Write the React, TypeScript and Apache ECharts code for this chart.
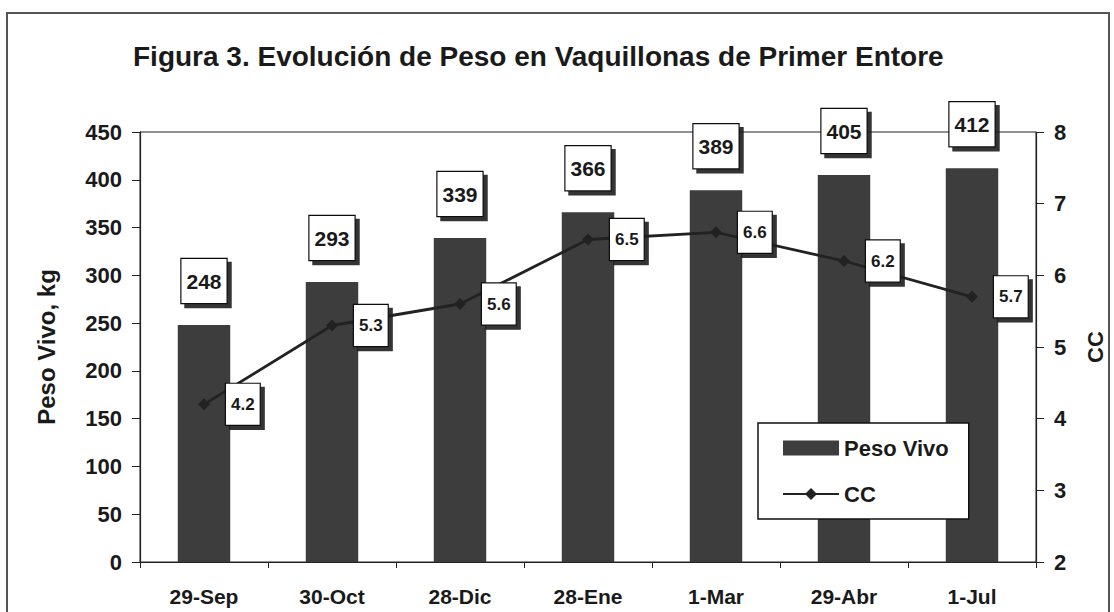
import React, { useEffect, useRef } from "react";
import * as echarts from "echarts";

const categories = ["29-Sep", "30-Oct", "28-Dic", "28-Ene", "1-Mar", "29-Abr", "1-Jul"];
const pesoVivo = [248, 293, 339, 366, 389, 405, 412];
const cc = [4.2, 5.3, 5.6, 6.5, 6.6, 6.2, 5.7];
const titleText = "Figura 3. Evolución de Peso en Vaquillonas de Primer Entore";

const FONT = "'Liberation Sans', Arial, sans-serif";

export default function App() {
  const ref = useRef<HTMLDivElement>(null);
  useEffect(() => {
    if (!ref.current) return;
    const chart = echarts.init(ref.current, undefined, { renderer: "svg" });
    const boxLabel = (fontSize: number, padding: number[]) => ({
      show: true,
      color: "#1a1a1a",
      fontFamily: FONT,
      fontWeight: "bold" as const,
      fontSize,
      backgroundColor: "#ffffff",
      borderColor: "#111",
      borderWidth: 1.2,
      padding,
      shadowColor: "rgba(30,30,30,0.9)",
      shadowOffsetX: 4,
      shadowOffsetY: 4,
      shadowBlur: 0,
    });
    chart.setOption({
      animation: false,
      backgroundColor: "#ffffff",
      textStyle: { fontFamily: FONT },
      title: {
        text: titleText,
        left: 128,
        top: 37,
        textStyle: { fontFamily: FONT, fontWeight: "bold", fontSize: 28, color: "#1a1a1a" },
      },
      graphic: [
        {
          type: "rect",
          shape: { x: 7, y: 13, width: 1102, height: 610 },
          style: { fill: "none", stroke: "#555", lineWidth: 2 },
          silent: true,
        },
      ],
      grid: {
        left: 140,
        right: 66,
        top: 132,
        bottom: 50,
        show: true,
        borderColor: "#222",
        borderWidth: 1,
        containLabel: false,
      },
      legend: {
        orient: "vertical",
        left: 758,
        top: 423,
        backgroundColor: "#ffffff",
        borderColor: "#111",
        borderWidth: 1.5,
        padding: [14, 20, 14, 24],
        itemGap: 24,
        itemWidth: 56,
        itemHeight: 15,
        textStyle: { fontFamily: FONT, fontWeight: "bold", fontSize: 22, color: "#1a1a1a" },
        data: [
          { name: "Peso Vivo", icon: "rect" },
          { name: "CC" },
        ],
      },
      xAxis: {
        type: "category",
        data: categories,
        boundaryGap: true,
        axisLine: { lineStyle: { color: "#222", width: 1.2 } },
        axisTick: { show: true, length: 6, lineStyle: { color: "#222" } },
        axisLabel: {
          margin: 24,
          color: "#1a1a1a",
          fontFamily: FONT,
          fontWeight: "bold",
          fontSize: 21,
        },
      },
      yAxis: [
        {
          type: "value",
          min: 0,
          max: 450,
          interval: 50,
          name: "Peso Vivo, kg",
          nameLocation: "middle",
          nameGap: 82,
          nameRotate: 90,
          nameTextStyle: { fontFamily: FONT, fontWeight: "bold", fontSize: 24, color: "#1a1a1a" },
          axisLine: { show: true, lineStyle: { color: "#222", width: 1.2 } },
          axisTick: { show: true, length: 8, lineStyle: { color: "#222" } },
          splitLine: { show: false },
          axisLabel: {
            margin: 18,
            color: "#1a1a1a",
            fontFamily: FONT,
            fontWeight: "bold",
            fontSize: 22,
          },
        },
        {
          type: "value",
          min: 2,
          max: 8,
          interval: 1,
          position: "right",
          name: "CC",
          nameLocation: "middle",
          nameGap: 48,
          nameRotate: 90,
          nameTextStyle: { fontFamily: FONT, fontWeight: "bold", fontSize: 22, color: "#1a1a1a" },
          axisLine: { show: true, lineStyle: { color: "#222", width: 1.2 } },
          axisTick: { show: true, length: 8, lineStyle: { color: "#222" } },
          splitLine: { show: false },
          axisLabel: {
            margin: 18,
            color: "#1a1a1a",
            fontFamily: FONT,
            fontWeight: "bold",
            fontSize: 22,
          },
        },
      ],
      series: [
        {
          name: "Peso Vivo",
          type: "bar",
          data: pesoVivo,
          barWidth: "41%",
          itemStyle: { color: "#3d3d3d" },
          label: {
            ...boxLabel(21, [12, 5, 11, 5]),
            position: "top",
            distance: 22,
          },
        },
        {
          name: "CC",
          type: "line",
          yAxisIndex: 1,
          data: cc,
          symbol: "diamond",
          symbolSize: 12,
          lineStyle: { color: "#222", width: 2.8 },
          itemStyle: { color: "#222" },
          label: {
            ...boxLabel(17, [12, 5, 12, 5]),
            position: "right",
            distance: 16,
            formatter: (p: any) => Number(p.value).toFixed(1),
          },
        },
      ],
    });
    return () => chart.dispose();
  }, []);
  return (
    <div
      ref={ref}
      style={{ position: "fixed", left: 0, top: 0, width: 1114, height: 612 }}
    />
  );
}
